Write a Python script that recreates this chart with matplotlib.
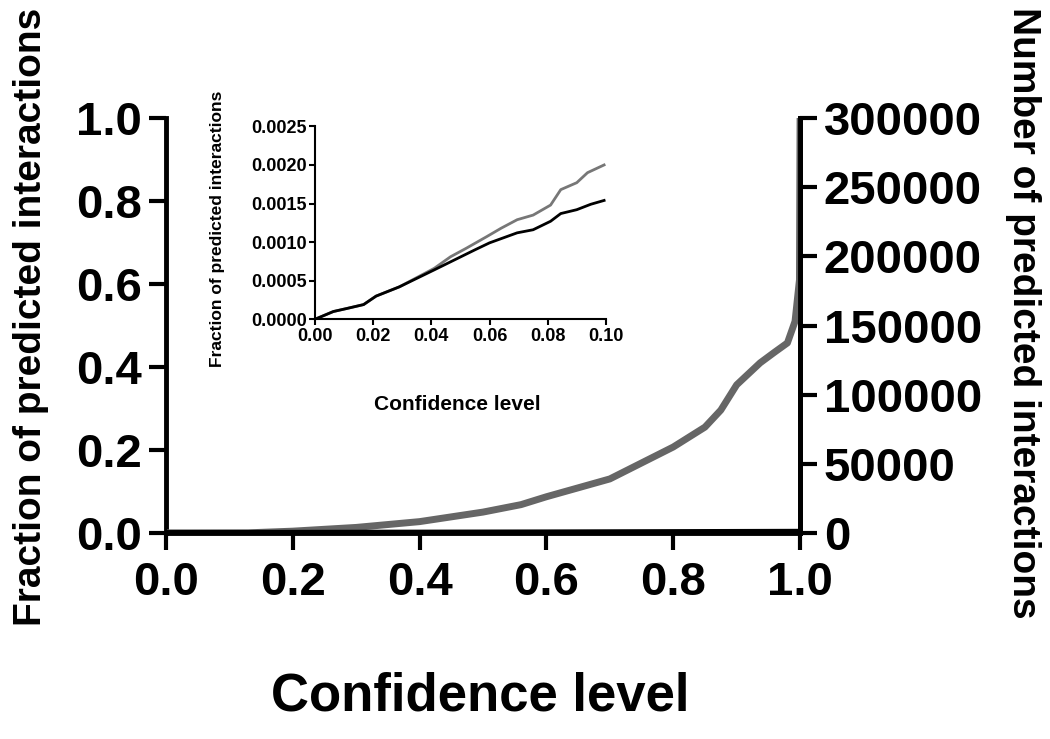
import numpy as np
import matplotlib.pyplot as plt

plt.rcParams['font.family'] = ['Liberation Sans', 'DejaVu Sans']
plt.rcParams['font.weight'] = 'bold'
plt.rcParams['axes.labelweight'] = 'bold'

# main panel: cumulative fraction vs confidence level
conf_main = [0.0, 0.13, 0.2, 0.3, 0.4, 0.5, 0.56, 0.6, 0.7, 0.8, 0.85,
             0.875, 0.9, 0.937, 0.96, 0.98, 0.992, 0.999, 1.0]
frac_main = [0.0, 0.0, 0.004, 0.013, 0.027, 0.05, 0.068, 0.087, 0.13, 0.207, 0.255,
             0.296, 0.357, 0.41, 0.436, 0.458, 0.51, 0.61, 1.0]
conf_base = [0.0, 0.6, 1.0]
frac_base = [0.0, 0.0015, 0.003]

# inset: low-confidence region
conf_black = [0.0, 0.0063, 0.011, 0.0167, 0.021, 0.029, 0.035, 0.041, 0.048, 0.055,
              0.060, 0.0695, 0.075, 0.081, 0.0845, 0.090, 0.0948, 0.0994]
frac_black = [0.0, 0.0001, 0.00014, 0.00019, 0.0003, 0.00042, 0.00053, 0.00064, 0.00077,
              0.0009, 0.00099, 0.00112, 0.00116, 0.00127, 0.00137, 0.00142, 0.00149, 0.00154]
conf_gray = [0.0, 0.0063, 0.011, 0.0167, 0.021, 0.029, 0.035, 0.041, 0.0466, 0.052,
             0.059, 0.064, 0.0695, 0.075, 0.081, 0.0845, 0.090, 0.0937, 0.0994]
frac_gray = [0.0, 0.0001, 0.00014, 0.00019, 0.0003, 0.00042, 0.00054, 0.00066, 0.00081,
             0.00092, 0.00107, 0.00118, 0.00129, 0.00135, 0.00148, 0.00168, 0.00177, 0.0019, 0.002]

TOTAL = 300000

fig = plt.figure(figsize=(10.5, 7.39), dpi=100)
ax = fig.add_axes([0.158, 0.279, 0.604, 0.561])

ax.plot(conf_main, frac_main, color='#666666', lw=5, solid_joinstyle='round', zorder=3)
ax.plot(conf_base, frac_base, color='black', lw=4, zorder=4)
ax.set_xlim(0, 1)
ax.set_ylim(0, 1)
ticks = np.arange(0, 1.01, 0.2)
ax.set_xticks(ticks)
ax.set_yticks(ticks)
ax.set_xticklabels([f'{v:.1f}' for v in ticks])
ax.set_yticklabels([f'{v:.1f}' for v in ticks])
ax.spines['top'].set_visible(False)
for s in ['left', 'bottom', 'right']:
    ax.spines[s].set_linewidth(3.5)
ax.tick_params(labelsize=34, width=3, length=12, pad=5)
ax.tick_params(axis='x', pad=8)
ax.set_xlabel('Confidence level', fontsize=38)
ax.xaxis.set_label_coords(0.495, -0.335)
ax.set_ylabel('Fraction of predicted interactions', fontsize=28)
ax.yaxis.set_label_coords(-0.185, 0.52)

ax2 = ax.twinx()
ax2.set_ylim(0, TOTAL)
ax2.set_yticks(np.arange(0, TOTAL + 1, 50000))
ax2.spines['top'].set_visible(False)
ax2.spines['right'].set_linewidth(3.5)
ax2.tick_params(labelsize=34, width=3, length=12, pad=5)
ax2.set_ylabel('Number of predicted interactions', fontsize=28, rotation=270, va='center')
ax2.yaxis.set_label_coords(1.352, 0.53)

# inset
ins = fig.add_axes([0.300, 0.568, 0.277, 0.261])
ins.plot(conf_gray, frac_gray, color='#777777', lw=2)
ins.plot(conf_black, frac_black, color='black', lw=2)
ins.set_xlim(0, 0.1)
ins.set_ylim(0, 0.0025)
xt = np.arange(0, 0.101, 0.02)
yt = np.arange(0, 0.00251, 0.0005)
ins.set_xticks(xt)
ins.set_xticklabels([f'{v:.2f}' for v in xt])
ins.set_yticks(yt)
ins.set_yticklabels([f'{v:.4f}' for v in yt])
ins.spines['top'].set_visible(False)
ins.spines['right'].set_visible(False)
for s in ['left', 'bottom']:
    ins.spines[s].set_linewidth(1.5)
ins.tick_params(labelsize=13, width=1.5, length=4, pad=2)
ins.set_xlabel('Confidence level', fontsize=15)
ins.xaxis.set_label_coords(0.49, -0.395)
ins.set_ylabel('Fraction of predicted interactions', fontsize=12.5)
ins.yaxis.set_label_coords(-0.31, 0.47)

fig.savefig('out.png', dpi=100)
